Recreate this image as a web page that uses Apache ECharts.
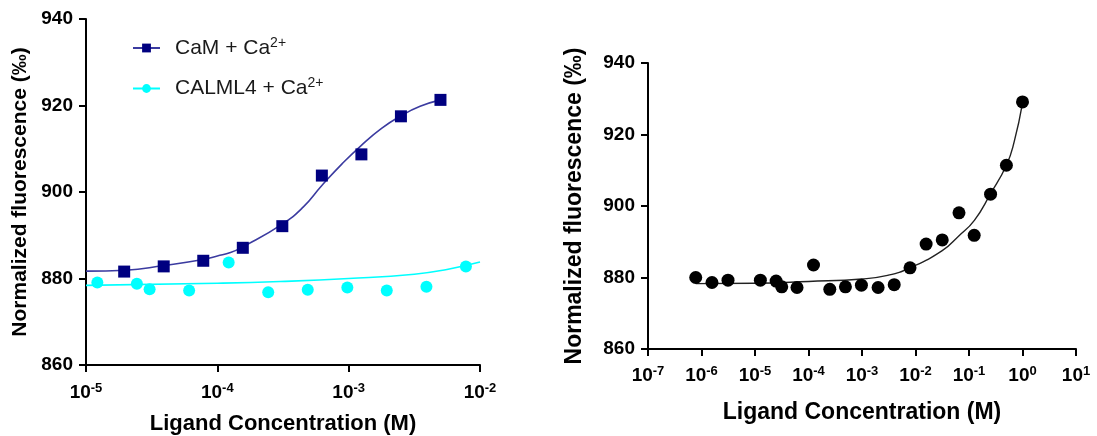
<!DOCTYPE html>
<html>
<head>
<meta charset="utf-8">
<script src="https://cdn.jsdelivr.net/npm/echarts@6/dist/echarts.min.js"></script>
<style>
  html, body { margin: 0; padding: 0; background: #fff; }
  #chart { width: 1097px; height: 436px; }
</style>
</head>
<body>
<div id="chart"></div>
<script>
// left panel: CaM vs CALML4 titration
const camX = [1.953e-5, 3.906e-5, 7.813e-5, 1.563e-4, 3.125e-4, 6.25e-4, 1.25e-3, 2.5e-3, 5e-3];
const camY = [881.6, 882.8, 884.1, 887.1, 892.1, 903.8, 908.7, 917.5, 921.3];
const camFitX = [1e-5, 2e-5, 3.9e-5, 7.8e-5, 1e-4, 1.26e-4, 1.56e-4, 3.1e-4, 4.5e-4, 6.25e-4, 8.9e-4, 1.25e-3, 1.78e-3, 2.5e-3, 3.5e-3, 5e-3];
const camFitY = [881.7, 881.9, 883.0, 884.4, 885.2, 886.0, 887.3, 892.5, 896.5, 901.5, 906.5, 910.8, 914.7, 917.6, 919.8, 921.3];

const calX = [1.22e-5, 2.44e-5, 3.05e-5, 6.1e-5, 1.22e-4, 2.44e-4, 4.88e-4, 9.77e-4, 1.95e-3, 3.91e-3, 7.81e-3];
const calY = [879.1, 878.8, 877.5, 877.2, 883.7, 876.8, 877.4, 877.9, 877.2, 878.1, 882.8];
const calFitX = [1e-5, 1e-4, 3e-4, 1e-3, 3.16e-3, 5.6e-3, 1e-2];
const calFitY = [878.4, 878.9, 879.3, 880.0, 881.0, 882.1, 883.8];

// right panel: single ligand titration
const ligX = [7.8e-7, 1.57e-6, 3.13e-6, 1.26e-5, 2.48e-5, 3.16e-5, 6.1e-5, 1.24e-4, 2.5e-4, 4.9e-4, 9.75e-4, 2.0e-3, 4.0e-3, 7.9e-3, 1.58e-2, 3.16e-2, 6.5e-2, 0.125, 0.253, 0.5, 1.0];
const ligY = [880.0, 878.6, 879.25, 879.25, 879.0, 877.4, 877.2, 883.5, 876.7, 877.4, 877.85, 877.2, 878.0, 882.7, 889.35, 890.5, 898.1, 891.8, 903.3, 911.4, 929.1];
const ligFitX = [7.8e-7, 1e-5, 1e-4, 1e-3, 3e-3, 7.9e-3, 3.16e-2, 6.3e-2, 0.126, 0.25, 0.5, 0.7, 1.0];
const ligFitY = [878.3, 878.4, 878.9, 879.6, 880.6, 882.7, 887.5, 891.5, 896.0, 903.3, 911.4, 918.0, 928.8];

const yTicks = [860, 880, 900, 920, 940];
const legendNames = ['CaM + Ca2+', 'CALML4 + Ca2+'];

const FONT = '"Liberation Sans", Arial, sans-serif';
const pairs = (xs, ys) => xs.map((x, i) => [x, ys[i]]);

const powLabel = {
  formatter: v => '{b|10}{s|' + Math.round(Math.log10(v)) + '}',
  rich: {
    b: { fontFamily: FONT, fontWeight: 'bold', fontSize: 19, color: '#000', lineHeight: 22 },
    s: { fontFamily: FONT, fontWeight: 'bold', fontSize: 13, color: '#000', verticalAlign: 'top', lineHeight: 13 }
  }
};

function xAxis(grid, min, max, nameGap, nameSize, margin) {
  return {
    type: 'log', logBase: 10, gridIndex: grid, min, max, interval: 1,
    name: 'Ligand Concentration (M)', nameLocation: 'middle', nameGap,
    nameTextStyle: { fontFamily: FONT, fontWeight: 'bold', fontSize: nameSize, color: '#000' },
    axisLine: { onZero: false, lineStyle: { color: '#000', width: 2 } },
    axisTick: { length: 7, lineStyle: { color: '#000', width: 2 } },
    minorTick: { show: false },
    splitLine: { show: false },
    axisLabel: Object.assign({ margin }, powLabel)
  };
}

function yAxis(grid, nameGap, nameSize) {
  return {
    type: 'value', gridIndex: grid, min: yTicks[0], max: yTicks[yTicks.length - 1], interval: 20,
    name: 'Normalized fluorescence (‰)', nameLocation: 'middle', nameGap,
    nameTextStyle: { fontFamily: FONT, fontWeight: 'bold', fontSize: nameSize, color: '#000' },
    axisLine: { show: true, lineStyle: { color: '#000', width: 2 } },
    axisTick: { show: true, length: 7, lineStyle: { color: '#000', width: 2 } },
    splitLine: { show: false },
    axisLabel: { margin: 13, fontFamily: FONT, fontWeight: 'bold', fontSize: 19, color: '#000' }
  };
}

const chart = echarts.init(document.getElementById('chart'), null, { renderer: 'canvas' });

chart.setOption({
  backgroundColor: '#fff',
  animation: false,
  grid: [
    { left: 86, top: 19, width: 394, height: 346, outerBoundsMode: 'none', containLabel: false },
    { left: 648, top: 63, width: 428, height: 286, outerBoundsMode: 'none', containLabel: false }
  ],
  xAxis: [xAxis(0, 1e-5, 1e-2, 48, 22, 17), xAxis(1, 1e-7, 1e1, 52, 23, 16)],
  yAxis: [yAxis(0, 55, 21), yAxis(1, 62, 23)],
  legend: {
    data: legendNames,
    orient: 'vertical',
    left: 127, top: 31,
    itemWidth: 27, itemHeight: 11, itemGap: 18,
    formatter: name => name === legendNames[0] ? '{t|CaM + Ca}{s|2+}' : '{t|CALML4 + Ca}{s|2+}',
    textStyle: {
      padding: [0, 0, 0, 10],
      rich: {
        t: { fontFamily: FONT, fontSize: 21, color: '#1a1a1a', lineHeight: 24 },
        s: { fontFamily: FONT, fontSize: 14, color: '#1a1a1a', verticalAlign: 'top', lineHeight: 14 }
      }
    }
  },
  series: [
    {
      name: legendNames[0], type: 'line', xAxisIndex: 0, yAxisIndex: 0,
      data: pairs(camFitX, camFitY), smooth: true,
      showSymbol: false, symbol: 'rect',
      lineStyle: { color: '#3b3ba0', width: 1.6 },
      itemStyle: { color: '#000080' }
    },
    {
      name: 'cam-points', type: 'scatter', xAxisIndex: 0, yAxisIndex: 0,
      data: pairs(camX, camY), symbol: 'rect', symbolSize: 12,
      itemStyle: { color: '#000080', opacity: 1 }, z: 3
    },
    {
      name: legendNames[1], type: 'line', xAxisIndex: 0, yAxisIndex: 0,
      data: pairs(calFitX, calFitY), smooth: true,
      showSymbol: false, symbol: 'circle',
      lineStyle: { color: '#00ffff', width: 1.6 },
      itemStyle: { color: '#00ffff' }
    },
    {
      name: 'calml4-points', type: 'scatter', xAxisIndex: 0, yAxisIndex: 0,
      data: pairs(calX, calY), symbol: 'circle', symbolSize: 12,
      itemStyle: { color: '#00ffff', opacity: 1 }, z: 3
    },
    {
      name: 'fit', type: 'line', xAxisIndex: 1, yAxisIndex: 1,
      data: pairs(ligFitX, ligFitY), smooth: true,
      showSymbol: false,
      lineStyle: { color: '#222', width: 1.4 }
    },
    {
      name: 'points', type: 'scatter', xAxisIndex: 1, yAxisIndex: 1,
      data: pairs(ligX, ligY), symbol: 'circle', symbolSize: 13,
      itemStyle: { color: '#000', opacity: 1 }, z: 3
    }
  ]
});
</script>
</body>
</html>
